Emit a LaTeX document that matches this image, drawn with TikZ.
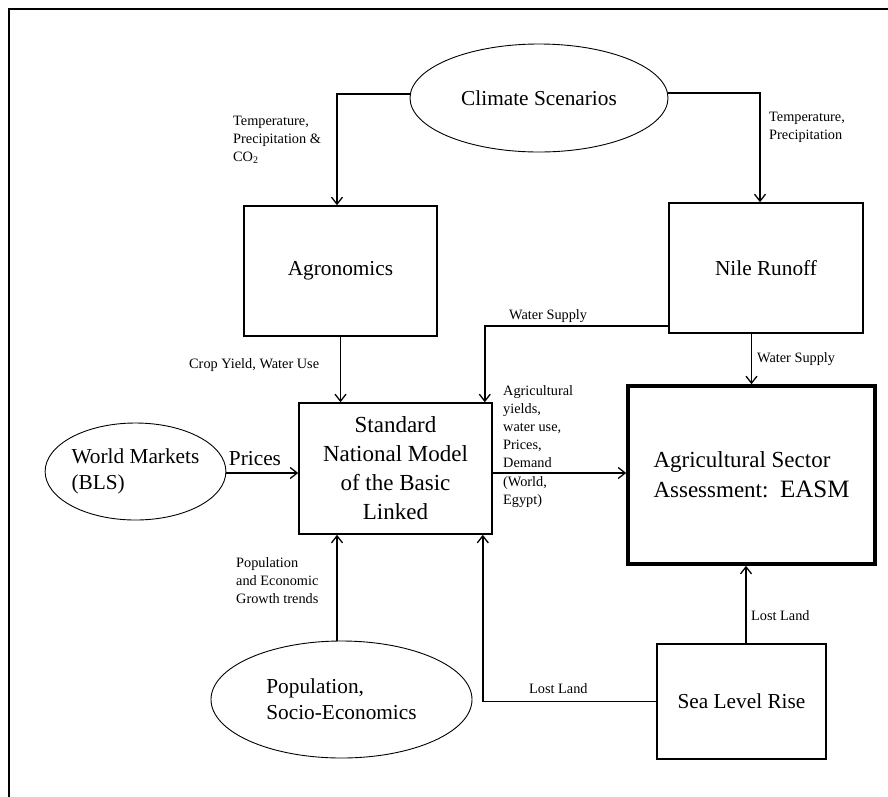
\documentclass[tikz,border=0pt]{standalone}
\usepackage{fontspec}
\setmainfont{Liberation Serif}
\usetikzlibrary{shapes.geometric,arrows.meta}
\newcommand\fbig{\fontsize{21.3}{26}\selectfont}
\newcommand\fstd{\fontsize{23}{29}\selectfont}
\newcommand\feasm{\fontsize{23}{30}\selectfont}
\newcommand\fsml{\fontsize{14.3}{18}\selectfont}
\tikzset{
  box/.style={draw, line width=1.6pt, inner sep=0pt, font=\fbig},
  oval/.style={draw, ellipse, line width=0.9pt, inner sep=0pt, font=\fbig, align=left},
  conn/.style={line width=1.6pt, -{Straight Barb[length=7pt,width=11pt,line width=1.3pt]}},
  plain/.style={line width=1.6pt},
  lbl/.style={inner sep=0pt, font=\fsml, align=left, anchor=west},
  frameline/.style={line width=2.5pt}
}
\begin{document}
\begin{tikzpicture}[x=1pt,y=-1pt]
\useasboundingbox (0,0) rectangle (888,796);
\draw[frameline] (9,800) -- (9,9) -- (892,9);

% nodes
\node[oval, minimum width=258pt, minimum height=108pt] (climate) at (539,98) {Climate Scenarios};
\node[box, minimum width=193pt, minimum height=130pt] (agron) at (340.5,271) {Agronomics};
\node[box, minimum width=194pt, minimum height=130pt] (nile) at (766,268) {Nile Runoff};
\node[box, minimum width=193pt, minimum height=131pt, font=\fstd, align=center] (std) at (395.5,468.5) {Standard\\National Model\\of the Basic\\Linked};
\node[box, line width=3.6pt, minimum width=247pt, minimum height=178pt, font=\feasm, align=left] (easm) at (751.5,475) {Agricultural Sector\\Assessment:~~{\fontsize{25}{30}\selectfont EASM}};
\node[oval, minimum width=177pt, minimum height=97pt] (world) at (135.5,471.5) {World Markets\\(BLS)};
\node[oval, minimum width=261pt, minimum height=117pt] (pop) at (341.5,699.5) {Population,\\Socio-Economics};
\node[box, minimum width=169pt, minimum height=115pt] (sea) at (741.5,701.5) {Sea Level Rise};

% connectors
\draw[conn] ([yshift=4pt]climate.west) -| ([xshift=-3.5pt]agron.north);
\draw[conn] ([yshift=5pt]climate.east) -| ([xshift=-6pt]nile.north);
\draw[conn] (agron.south) -- (agron.south |- std.north);
\draw[conn] ([yshift=8pt]nile.south west) -| ([xshift=-8pt]std.north east);
\draw[conn] (easm.north |- nile.south) -- (easm.north);
\draw[conn] ([yshift=-1.5pt]world.east) -- ([yshift=-1.5pt]world.east -| std.west);
\draw[conn] ([yshift=-4.5pt]std.east) -- ([yshift=-4.5pt]std.east -| easm.west);
\draw[conn] ([xshift=-4.5pt]pop.north) -- ([xshift=-4.5pt]pop.north |- std.south);
\draw[conn] (sea.west) -| ([xshift=-10pt]std.south east);
\draw[conn] ([xshift=4.5pt]sea.north) -- ([xshift=4.5pt]sea.north |- easm.south);

% labels
\node[lbl] (l1) at (233,140) {Temperature,\\Precipitation \&\\CO\textsubscript{2}};
\node[lbl] (l2) at (769,127) {Temperature,\\Precipitation};
\node[lbl] (l3) at (189,365) {Crop Yield, Water Use};
\node[lbl] (l4) at (509,316) {Water Supply};
\node[lbl] (l5) at (757,359) {Water Supply};
\node[lbl] (l6) at (503,427) {Agricultural\\yields,\\water use,\\Prices,\\Demand};
\node[lbl] (l7) at (503,492) {(World,\\Egypt)};
\node[inner sep=0pt, font=\fbig] (l8) at (255,459) {Prices};
\node[lbl] (l9) at (236,581) {Population\\and Economic\\Growth trends};
\node[lbl] (l10) at (529,689) {Lost Land};
\node[lbl] (l11) at (751,616) {Lost Land};
\end{tikzpicture}
\end{document}
